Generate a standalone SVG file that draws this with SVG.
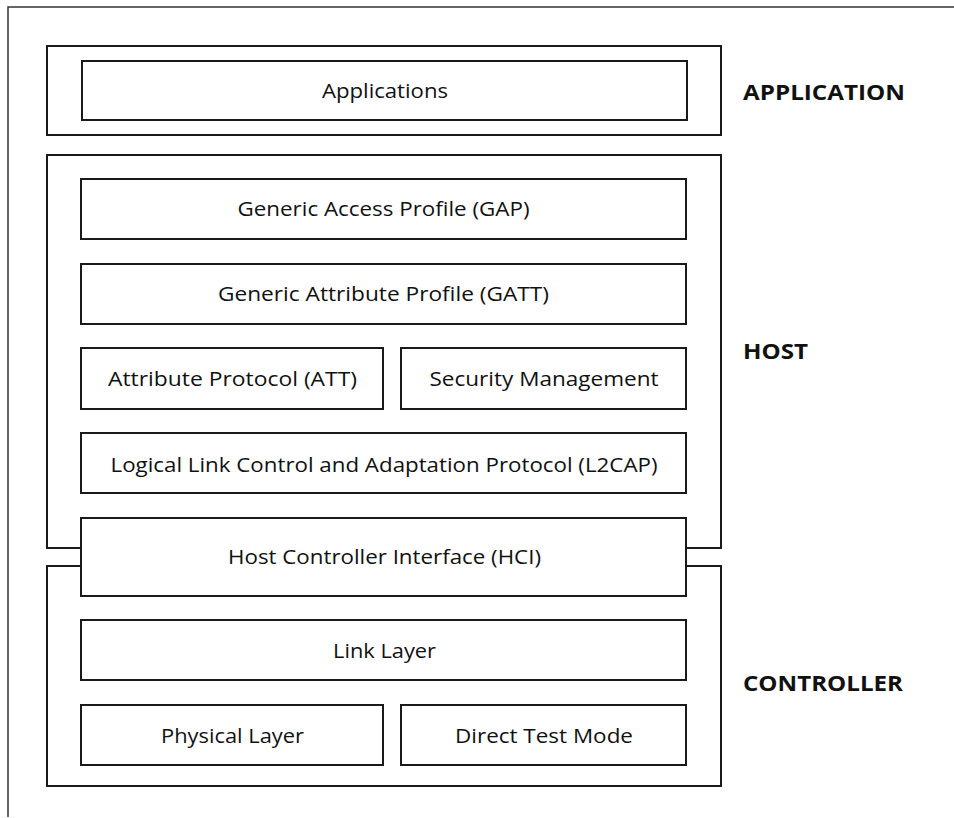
<svg xmlns="http://www.w3.org/2000/svg" width="954" height="818" viewBox="0 0 954 818">
<style>
.box{fill:#fff;stroke:#1a1a1a;stroke-width:2}
.grp{fill:none;stroke:#1a1a1a;stroke-width:2}
.frame{fill:none;stroke:#333;stroke-width:1.5}
.t{font-family:"Open Sans","Liberation Sans",sans-serif;font-size:20px;fill:#111;text-anchor:middle}
.lb{font-family:"Open Sans","Liberation Sans",sans-serif;font-size:22px;font-weight:700;fill:#111}
</style>
<rect width="954" height="818" fill="#fff"/>
<path class="frame" d="M8,817 V7 H954"/>
<g id="layers">
<path id="application-layer" class="grp" d="M47,46 H721 V135 H47 Z"/>
<path id="host-layer" class="grp" d="M81,548 H47 V155 H721 V548 H686"/>
<path id="controller-layer" class="grp" d="M81,566 H47 V786 H721 V566 H686"/>
</g>
<g id="applications"><rect class="box" x="82" y="61" width="605" height="59"/><text class="t" x="385" y="98" textLength="126" lengthAdjust="spacingAndGlyphs">Applications</text></g>
<g id="gap"><rect class="box" x="81" y="179" width="605" height="60"/><text class="t" x="383.5" y="216" textLength="292" lengthAdjust="spacingAndGlyphs">Generic Access Profile (GAP)</text></g>
<g id="gatt"><rect class="box" x="81" y="264" width="605" height="60"/><text class="t" x="383.5" y="301" textLength="331" lengthAdjust="spacingAndGlyphs">Generic Attribute Profile (GATT)</text></g>
<g id="att"><rect class="box" x="81" y="348" width="302" height="61"/><text class="t" x="232.5" y="386" textLength="249" lengthAdjust="spacingAndGlyphs">Attribute Protocol (ATT)</text></g>
<g id="security"><rect class="box" x="401" y="348" width="285" height="61"/><text class="t" x="544" y="386" textLength="229" lengthAdjust="spacingAndGlyphs">Security Management</text></g>
<g id="l2cap"><rect class="box" x="81" y="433" width="605" height="60"/><text class="t" x="384" y="472" textLength="547" lengthAdjust="spacingAndGlyphs">Logical Link Control and Adaptation Protocol (L2CAP)</text></g>
<g id="hci"><rect class="box" x="81" y="518" width="605" height="78"/><text class="t" x="384.5" y="564" textLength="313" lengthAdjust="spacingAndGlyphs">Host Controller Interface (HCI)</text></g>
<g id="link-layer"><rect class="box" x="81" y="620" width="605" height="60"/><text class="t" x="384.5" y="658" textLength="103" lengthAdjust="spacingAndGlyphs">Link Layer</text></g>
<g id="physical-layer"><rect class="box" x="81" y="705" width="302" height="60"/><text class="t" x="232.5" y="743" textLength="143" lengthAdjust="spacingAndGlyphs">Physical Layer</text></g>
<g id="direct-test-mode"><rect class="box" x="401" y="705" width="285" height="60"/><text class="t" x="544" y="743" textLength="178" lengthAdjust="spacingAndGlyphs">Direct Test Mode</text></g>
<g id="labels">
<text class="lb" x="743" y="100" textLength="162" lengthAdjust="spacingAndGlyphs">APPLICATION</text>
<text class="lb" x="743" y="359" textLength="65" lengthAdjust="spacingAndGlyphs">HOST</text>
<text class="lb" x="743" y="691" textLength="160" lengthAdjust="spacingAndGlyphs">CONTROLLER</text>
</g>
<g id="connectors"></g>
</svg>
